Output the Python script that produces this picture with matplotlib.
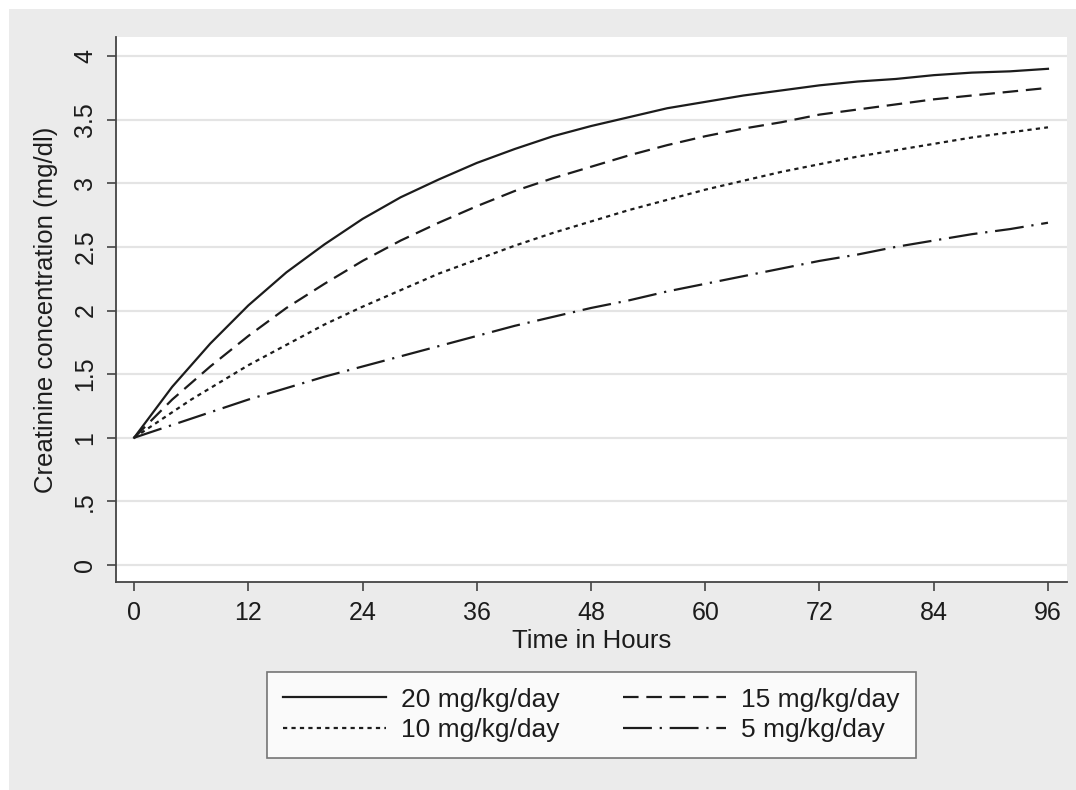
import matplotlib
matplotlib.use("Agg")
import matplotlib.pyplot as plt
from matplotlib.patches import Rectangle

plt.rcParams['font.family'] = ['Liberation Sans', 'DejaVu Sans']

# hours after start of dosing
hours = [0, 2, 4, 6, 8, 10, 12, 16, 20, 24, 28, 32, 36, 40, 44, 48,
         52, 56, 60, 64, 68, 72, 76, 80, 84, 88, 92, 96]

# predicted creatinine (mg/dl) per dose
dose20 = [1.00, 1.20, 1.40, 1.57, 1.74, 1.89, 2.04, 2.30, 2.52, 2.72, 2.89, 3.03, 3.16, 3.27, 3.37, 3.45,
          3.52, 3.59, 3.64, 3.69, 3.73, 3.77, 3.80, 3.82, 3.85, 3.87, 3.88, 3.90]
dose15 = [1.00, 1.15, 1.30, 1.43, 1.56, 1.68, 1.80, 2.02, 2.21, 2.39, 2.55, 2.69, 2.82, 2.94, 3.04, 3.13,
          3.22, 3.30, 3.37, 3.43, 3.48, 3.54, 3.58, 3.62, 3.66, 3.69, 3.72, 3.75]
dose10 = [1.00, 1.10, 1.20, 1.30, 1.39, 1.48, 1.57, 1.73, 1.89, 2.03, 2.16, 2.29, 2.40, 2.51, 2.61, 2.70,
          2.79, 2.87, 2.95, 3.02, 3.09, 3.15, 3.21, 3.26, 3.31, 3.36, 3.40, 3.44]
dose5 = [1.00, 1.05, 1.10, 1.15, 1.20, 1.25, 1.30, 1.39, 1.48, 1.56, 1.64, 1.72, 1.80, 1.88, 1.95, 2.02,
         2.08, 2.15, 2.21, 2.27, 2.33, 2.39, 2.44, 2.50, 2.55, 2.60, 2.64, 2.69]

labels = ["20 mg/kg/day", "15 mg/kg/day", "10 mg/kg/day", "5 mg/kg/day"]
xticks = [0, 12, 24, 36, 48, 60, 72, 84, 96]
yticks = [0, 0.5, 1, 1.5, 2, 2.5, 3, 3.5, 4]
ylabels = ["0", ".5", "1", "1.5", "2", "2.5", "3", "3.5", "4"]

ink = "#1c1c1c"
fig = plt.figure(figsize=(10.76, 7.9), dpi=100, facecolor="white")
# grey graph region like a Stata scheme
fig.patches.append(Rectangle((9 / 1076, 0), 1 - 9 / 1076, 1 - 9 / 790,
                             transform=fig.transFigure, facecolor="#ebebeb",
                             edgecolor="none", zorder=-10))

ax = fig.add_axes([116 / 1076, 1 - 582 / 790, (1067 - 116) / 1076, (582 - 37) / 790])
ax.set_facecolor("white")

lw = 1.6
l1, = ax.plot(hours, dose20, color=ink, lw=lw, linestyle="-")
l2, = ax.plot(hours, dose15, color=ink, lw=lw, linestyle=(0, (7, 3.5)))
l3, = ax.plot(hours, dose10, color=ink, lw=lw, linestyle=(0, (1.9, 1.9)))
l4, = ax.plot(hours, dose5, color=ink, lw=lw, linestyle=(0, (13, 3.5, 1, 3.5)))

ax.set_xlim(-1.9, 98)
ax.set_ylim(-0.134, 4.15)
ax.set_xticks(xticks)
ax.set_yticks(yticks)
ax.set_yticklabels(ylabels, rotation=90, va="center")

ax.yaxis.grid(True, color="#e4e4e4", lw=1.6)
ax.set_axisbelow(True)
for s in ["top", "right"]:
    ax.spines[s].set_visible(False)
for s in ["left", "bottom"]:
    ax.spines[s].set_color("#444444")
    ax.spines[s].set_linewidth(1.3)
ax.tick_params(axis="both", direction="out", length=6.5, width=1.2, color="#444444",
               labelsize=18, labelcolor=ink)
ax.tick_params(axis="x", pad=7)
ax.tick_params(axis="y", pad=7)

ax.set_xlabel("Time in Hours", fontsize=18.5, color=ink, labelpad=3)
ax.set_ylabel("Creatinine concentration (mg/dl)", fontsize=18.5, color=ink, labelpad=11)

# legend fills column by column, so order handles to read row-wise 20/15, 10/5
leg = fig.legend([l1, l3, l2, l4], [labels[0], labels[2], labels[1], labels[3]],
                 ncol=2, loc="center",
                 bbox_to_anchor=(591.5 / 1076, 1 - 715 / 790), fontsize=19,
                 frameon=True, fancybox=False, handlelength=3.9, handletextpad=0.57,
                 columnspacing=2.4, borderpad=0.6, labelspacing=0.25)
leg.get_frame().set_edgecolor("#555555")
leg.get_frame().set_linewidth(1.2)
leg.get_frame().set_facecolor("white")
for t in leg.get_texts():
    t.set_color(ink)

fig.savefig("out.png", dpi=100, facecolor=fig.get_facecolor())
